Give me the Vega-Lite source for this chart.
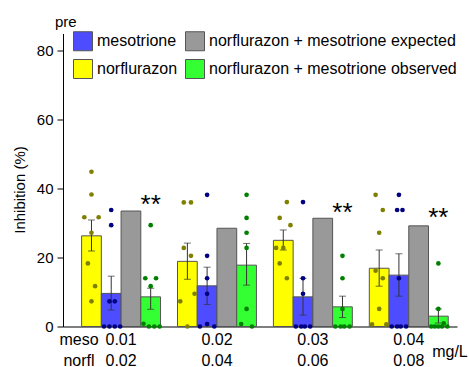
{
  "$schema": "https://vega.github.io/schema/vega-lite/v6.json",
  "width": 394,
  "height": 293,
  "autosize": {"type": "none"},
  "padding": {"left": 63, "top": 33.5, "right": 12, "bottom": 40},
  "background": "white",
  "config": {"font": "Liberation Sans", "view": {"stroke": null}},
  "title": {"text": "pre", "anchor": "start", "frame": "group", "fontSize": 15, "fontWeight": "normal", "color": "black", "dx": -8, "offset": 1.5},
  "datasets": {
    "bars": [
      {"g": "0.01", "s": "norflurazon", "mean": 26.3, "lo": 21.9, "hi": 30.9},
      {"g": "0.01", "s": "mesotrione", "mean": 9.6, "lo": 4.8, "hi": 14.6},
      {"g": "0.01", "s": "norflurazon + mesotrione expected", "mean": 33.5, "lo": null, "hi": null},
      {"g": "0.01", "s": "norflurazon + mesotrione observed", "mean": 8.6, "lo": 5.0, "hi": 11.1},
      {"g": "0.02", "s": "norflurazon", "mean": 18.9, "lo": 13.7, "hi": 24.2},
      {"g": "0.02", "s": "mesotrione", "mean": 11.8, "lo": 6.4, "hi": 17.2},
      {"g": "0.02", "s": "norflurazon + mesotrione expected", "mean": 28.5, "lo": null, "hi": null},
      {"g": "0.02", "s": "norflurazon + mesotrione observed", "mean": 17.8, "lo": 12.0, "hi": 24.1},
      {"g": "0.03", "s": "norflurazon", "mean": 25.0, "lo": 22.2, "hi": 28.0},
      {"g": "0.03", "s": "mesotrione", "mean": 8.6, "lo": 3.3, "hi": 14.0},
      {"g": "0.03", "s": "norflurazon + mesotrione expected", "mean": 31.4, "lo": null, "hi": null},
      {"g": "0.03", "s": "norflurazon + mesotrione observed", "mean": 5.7, "lo": 2.6, "hi": 8.8},
      {"g": "0.04", "s": "norflurazon", "mean": 16.9, "lo": 11.7, "hi": 22.2},
      {"g": "0.04", "s": "mesotrione", "mean": 14.9, "lo": 8.8, "hi": 21.1},
      {"g": "0.04", "s": "norflurazon + mesotrione expected", "mean": 29.2, "lo": null, "hi": null},
      {"g": "0.04", "s": "norflurazon + mesotrione observed", "mean": 3.0, "lo": 1.0, "hi": 5.1}
    ],
    "pts": [
      {"g": "0.01", "s": "norflurazon", "v": 44.9, "slot": "N5"},
      {"g": "0.01", "s": "norflurazon", "v": 38.3, "slot": "N5"},
      {"g": "0.01", "s": "norflurazon", "v": 31.7, "slot": "N1"},
      {"g": "0.01", "s": "norflurazon", "v": 31.7, "slot": "N9"},
      {"g": "0.01", "s": "norflurazon", "v": 27.2, "slot": "N5"},
      {"g": "0.01", "s": "norflurazon", "v": 18.3, "slot": "N3"},
      {"g": "0.01", "s": "norflurazon", "v": 11.7, "slot": "N7"},
      {"g": "0.01", "s": "norflurazon", "v": 7.3, "slot": "N5"},
      {"g": "0.01", "s": "mesotrione", "v": 33.8, "slot": "M5"},
      {"g": "0.01", "s": "mesotrione", "v": 29.4, "slot": "M5"},
      {"g": "0.01", "s": "mesotrione", "v": 7.3, "slot": "M4"},
      {"g": "0.01", "s": "mesotrione", "v": 7.3, "slot": "M7"},
      {"g": "0.01", "s": "mesotrione", "v": 0, "slot": "M1"},
      {"g": "0.01", "s": "mesotrione", "v": 0, "slot": "M4"},
      {"g": "0.01", "s": "mesotrione", "v": 0, "slot": "M7"},
      {"g": "0.01", "s": "mesotrione", "v": 0, "slot": "M10"},
      {"g": "0.01", "s": "norflurazon + mesotrione observed", "v": 29.4, "slot": "O5"},
      {"g": "0.01", "s": "norflurazon + mesotrione observed", "v": 14.0, "slot": "O2"},
      {"g": "0.01", "s": "norflurazon + mesotrione observed", "v": 14.0, "slot": "O8"},
      {"g": "0.01", "s": "norflurazon + mesotrione observed", "v": 11.7, "slot": "O5"},
      {"g": "0.01", "s": "norflurazon + mesotrione observed", "v": 0.8, "slot": "O1"},
      {"g": "0.01", "s": "norflurazon + mesotrione observed", "v": 0, "slot": "O4"},
      {"g": "0.01", "s": "norflurazon + mesotrione observed", "v": 0, "slot": "O7"},
      {"g": "0.01", "s": "norflurazon + mesotrione observed", "v": 0, "slot": "O10"},
      {"g": "0.02", "s": "norflurazon", "v": 36.0, "slot": "N3"},
      {"g": "0.02", "s": "norflurazon", "v": 36.0, "slot": "N7"},
      {"g": "0.02", "s": "norflurazon", "v": 22.8, "slot": "N3"},
      {"g": "0.02", "s": "norflurazon", "v": 20.5, "slot": "N7"},
      {"g": "0.02", "s": "norflurazon", "v": 9.5, "slot": "N9"},
      {"g": "0.02", "s": "norflurazon", "v": 7.3, "slot": "N1"},
      {"g": "0.02", "s": "norflurazon", "v": 0, "slot": "N5"},
      {"g": "0.02", "s": "mesotrione", "v": 38.2, "slot": "M5"},
      {"g": "0.02", "s": "mesotrione", "v": 20.5, "slot": "M5"},
      {"g": "0.02", "s": "mesotrione", "v": 14.0, "slot": "M5"},
      {"g": "0.02", "s": "mesotrione", "v": 9.5, "slot": "M5"},
      {"g": "0.02", "s": "mesotrione", "v": 0.7, "slot": "M5"},
      {"g": "0.02", "s": "mesotrione", "v": 0, "slot": "M1"},
      {"g": "0.02", "s": "mesotrione", "v": 0, "slot": "M9"},
      {"g": "0.02", "s": "norflurazon + mesotrione observed", "v": 38.2, "slot": "O5"},
      {"g": "0.02", "s": "norflurazon + mesotrione observed", "v": 31.5, "slot": "O5"},
      {"g": "0.02", "s": "norflurazon + mesotrione observed", "v": 27.2, "slot": "O5"},
      {"g": "0.02", "s": "norflurazon + mesotrione observed", "v": 22.8, "slot": "O5"},
      {"g": "0.02", "s": "norflurazon + mesotrione observed", "v": 5.1, "slot": "O5"},
      {"g": "0.02", "s": "norflurazon + mesotrione observed", "v": 0.7, "slot": "O2"},
      {"g": "0.02", "s": "norflurazon + mesotrione observed", "v": 0, "slot": "O8"},
      {"g": "0.03", "s": "norflurazon", "v": 36.1, "slot": "N7"},
      {"g": "0.03", "s": "norflurazon", "v": 31.5, "slot": "N3"},
      {"g": "0.03", "s": "norflurazon", "v": 29.4, "slot": "N9"},
      {"g": "0.03", "s": "norflurazon", "v": 22.8, "slot": "N1"},
      {"g": "0.03", "s": "norflurazon", "v": 22.8, "slot": "N5"},
      {"g": "0.03", "s": "norflurazon", "v": 18.3, "slot": "N3"},
      {"g": "0.03", "s": "norflurazon", "v": 14.0, "slot": "N7"},
      {"g": "0.03", "s": "mesotrione", "v": 36.1, "slot": "M5"},
      {"g": "0.03", "s": "mesotrione", "v": 14.0, "slot": "M5"},
      {"g": "0.03", "s": "mesotrione", "v": 9.5, "slot": "M5"},
      {"g": "0.03", "s": "mesotrione", "v": 0, "slot": "M1"},
      {"g": "0.03", "s": "mesotrione", "v": 0, "slot": "M4"},
      {"g": "0.03", "s": "mesotrione", "v": 0, "slot": "M6"},
      {"g": "0.03", "s": "mesotrione", "v": 0, "slot": "M9"},
      {"g": "0.03", "s": "norflurazon + mesotrione observed", "v": 20.5, "slot": "O5"},
      {"g": "0.03", "s": "norflurazon + mesotrione observed", "v": 14.0, "slot": "O5"},
      {"g": "0.03", "s": "norflurazon + mesotrione observed", "v": 5.1, "slot": "O5"},
      {"g": "0.03", "s": "norflurazon + mesotrione observed", "v": 0, "slot": "O1"},
      {"g": "0.03", "s": "norflurazon + mesotrione observed", "v": 0, "slot": "O4"},
      {"g": "0.03", "s": "norflurazon + mesotrione observed", "v": 0, "slot": "O6"},
      {"g": "0.03", "s": "norflurazon + mesotrione observed", "v": 0, "slot": "O9"},
      {"g": "0.04", "s": "norflurazon", "v": 38.2, "slot": "N3"},
      {"g": "0.04", "s": "norflurazon", "v": 33.8, "slot": "N7"},
      {"g": "0.04", "s": "norflurazon", "v": 27.2, "slot": "N5"},
      {"g": "0.04", "s": "norflurazon", "v": 16.2, "slot": "N3"},
      {"g": "0.04", "s": "norflurazon", "v": 14.0, "slot": "N7"},
      {"g": "0.04", "s": "norflurazon", "v": 5.1, "slot": "N5"},
      {"g": "0.04", "s": "norflurazon", "v": 0.6, "slot": "N1"},
      {"g": "0.04", "s": "norflurazon", "v": 0.6, "slot": "N9"},
      {"g": "0.04", "s": "mesotrione", "v": 38.2, "slot": "M5"},
      {"g": "0.04", "s": "mesotrione", "v": 33.8, "slot": "M4"},
      {"g": "0.04", "s": "mesotrione", "v": 33.8, "slot": "M7"},
      {"g": "0.04", "s": "mesotrione", "v": 14.0, "slot": "M5"},
      {"g": "0.04", "s": "mesotrione", "v": 0, "slot": "M1"},
      {"g": "0.04", "s": "mesotrione", "v": 0, "slot": "M4"},
      {"g": "0.04", "s": "mesotrione", "v": 0, "slot": "M6"},
      {"g": "0.04", "s": "mesotrione", "v": 0, "slot": "M9"},
      {"g": "0.04", "s": "norflurazon + mesotrione observed", "v": 18.3, "slot": "O5"},
      {"g": "0.04", "s": "norflurazon + mesotrione observed", "v": 5.1, "slot": "O5"},
      {"g": "0.04", "s": "norflurazon + mesotrione observed", "v": 0.9, "slot": "O8"},
      {"g": "0.04", "s": "norflurazon + mesotrione observed", "v": 0, "slot": "O1"},
      {"g": "0.04", "s": "norflurazon + mesotrione observed", "v": 0, "slot": "O3"},
      {"g": "0.04", "s": "norflurazon + mesotrione observed", "v": 0, "slot": "O5"},
      {"g": "0.04", "s": "norflurazon + mesotrione observed", "v": 0, "slot": "O7"},
      {"g": "0.04", "s": "norflurazon + mesotrione observed", "v": 0, "slot": "O10"}
    ],
    "stars": [
      {"g": "0.01", "s": "norflurazon + mesotrione observed", "y": 36.9, "label": "**"},
      {"g": "0.03", "s": "norflurazon + mesotrione observed", "y": 34.7, "label": "**"},
      {"g": "0.04", "s": "norflurazon + mesotrione observed", "y": 33.3, "label": "**"}
    ]
  },
  "layer": [
    {
      "data": {"name": "bars"},
      "mark": {"type": "bar", "stroke": "#555555", "strokeWidth": 1, "opacity": 1},
      "encoding": {
        "x": {"field": "g", "type": "nominal", "sort": null, "title": null,
          "scale": {"domain": ["0.01", "0.02", "0.03", "0.04"], "paddingInner": 0.177, "paddingOuter": 0.1427, "align": 0.68},
          "axis": {"title": null, "ticks": false, "tickSize": 0, "labelAngle": 0,
            "labelExpr": "datum.value == '0.01' ? ['0.01', '0.02'] : datum.value == '0.02' ? ['0.02', '0.04'] : datum.value == '0.03' ? ['0.03', '0.06'] : ['0.04', '0.08']",
            "labelFontSize": 16, "labelColor": "black", "labelLineHeight": 21, "labelPadding": 5,
            "domainColor": "#555555", "domainWidth": 1.5}},
        "xOffset": {"field": "s", "type": "nominal",
          "scale": {"domain": ["norflurazon", "mesotrione", "norflurazon + mesotrione expected", "norflurazon + mesotrione observed"]}},
        "y": {"field": "mean", "type": "quantitative", "stack": null, "title": "Inhibition (%)",
          "scale": {"domain": [0, 85], "nice": false},
          "axis": {"title": "Inhibition (%)", "values": [0, 10, 20, 30, 40, 50, 60, 70, 80],
            "labelExpr": "datum.value % 20 === 0 ? datum.label : ''",
            "tickSize": {"condition": {"test": "datum.value % 20 === 0", "value": 6}, "value": 3},
            "domainColor": "black", "tickColor": "black", "labelColor": "black", "labelFontSize": 15, "labelPadding": 4,
            "titleFontSize": 15, "titleFontWeight": "normal", "titleColor": "black", "titlePadding": 9, "titleY": 156, "grid": false}},
        "color": {"field": "s", "type": "nominal",
          "scale": {"domain": ["mesotrione", "norflurazon", "norflurazon + mesotrione expected", "norflurazon + mesotrione observed"],
            "range": ["#4D4DFF", "#FFFF00", "#999999", "#33FF33"]},
          "legend": {"orient": "none", "legendX": 10, "legendY": -2.5, "title": null, "columns": 2, "columnPadding": 5, "rowPadding": 4,
            "gridAlign": "each",
            "symbolType": "square", "symbolSize": 361, "symbolStrokeColor": "#555555", "symbolStrokeWidth": 1, "symbolOpacity": 1,
            "labelFontSize": 16, "labelColor": "black", "labelOffset": 4, "labelLimit": 400, "padding": 0}}
      }
    },
    {
      "data": {"name": "bars"},
      "mark": {"type": "rule", "color": "#333333", "strokeWidth": 1},
      "encoding": {
        "x": {"field": "g", "type": "nominal", "title": null},
        "xOffset": {"field": "s", "type": "nominal",
          "scale": {"domain": ["norflurazon", "mesotrione", "norflurazon + mesotrione expected", "norflurazon + mesotrione observed"]}},
        "y": {"field": "lo", "type": "quantitative", "title": "Inhibition (%)"},
        "y2": {"field": "hi"}
      }
    },
    {
      "data": {"name": "bars"},
      "mark": {"type": "tick", "color": "#333333", "thickness": 1, "size": 7},
      "encoding": {
        "x": {"field": "g", "type": "nominal", "title": null},
        "xOffset": {"field": "s", "type": "nominal",
          "scale": {"domain": ["norflurazon", "mesotrione", "norflurazon + mesotrione expected", "norflurazon + mesotrione observed"]}},
        "y": {"field": "lo", "type": "quantitative", "title": "Inhibition (%)"}
      }
    },
    {
      "data": {"name": "bars"},
      "mark": {"type": "tick", "color": "#333333", "thickness": 1, "size": 7},
      "encoding": {
        "x": {"field": "g", "type": "nominal", "title": null},
        "xOffset": {"field": "s", "type": "nominal",
          "scale": {"domain": ["norflurazon", "mesotrione", "norflurazon + mesotrione expected", "norflurazon + mesotrione observed"]}},
        "y": {"field": "hi", "type": "quantitative", "title": "Inhibition (%)"}
      }
    },
    {
      "data": {"name": "pts"},
      "mark": {"type": "circle", "size": 22, "opacity": 1},
      "encoding": {
        "x": {"field": "g", "type": "nominal", "title": null},
        "xOffset": {"field": "slot", "type": "nominal",
          "scale": {"domain": ["N0","N1","N2","N3","N4","N5","N6","N7","N8","N9","N10",
                               "M0","M1","M2","M3","M4","M5","M6","M7","M8","M9","M10",
                               "E0","E1","E2","E3","E4","E5","E6","E7","E8","E9","E10",
                               "O0","O1","O2","O3","O4","O5","O6","O7","O8","O9","O10"]}},
        "y": {"field": "v", "type": "quantitative", "title": "Inhibition (%)"},
        "fill": {"field": "s", "type": "nominal", "legend": null,
          "scale": {"domain": ["norflurazon", "mesotrione", "norflurazon + mesotrione observed"], "range": ["#808000", "#000080", "#008000"]}}
      }
    },
    {
      "data": {"name": "stars"},
      "mark": {"type": "text", "fontSize": 26, "baseline": "middle", "align": "center", "dy": 6, "color": "black"},
      "encoding": {
        "x": {"field": "g", "type": "nominal", "title": null},
        "xOffset": {"field": "s", "type": "nominal",
          "scale": {"domain": ["norflurazon", "mesotrione", "norflurazon + mesotrione expected", "norflurazon + mesotrione observed"]}},
        "y": {"field": "y", "type": "quantitative", "title": "Inhibition (%)"},
        "text": {"field": "label"}
      }
    },
    {
      "data": {"values": [{"label": "meso|norfl"}]},
      "mark": {"type": "text", "text": ["meso", "norfl"], "fontSize": 16, "lineHeight": 21, "baseline": "middle", "align": "center", "dx": -2.6, "color": "black"},
      "encoding": {
        "x": {"datum": "0.01", "type": "nominal", "bandPosition": 0, "title": null},
        "y": {"datum": -3.9, "type": "quantitative", "title": "Inhibition (%)"}
      }
    },
    {
      "data": {"values": [{"label": "mg/L"}]},
      "mark": {"type": "text", "fontSize": 16, "baseline": "middle", "align": "center", "dx": 1.7, "color": "black"},
      "encoding": {
        "x": {"datum": "0.04", "type": "nominal", "bandPosition": 1, "title": null},
        "y": {"datum": -7.3, "type": "quantitative", "title": "Inhibition (%)"},
        "text": {"field": "label"}
      }
    }
  ],
  "resolve": {"scale": {"xOffset": "independent"}}
}
